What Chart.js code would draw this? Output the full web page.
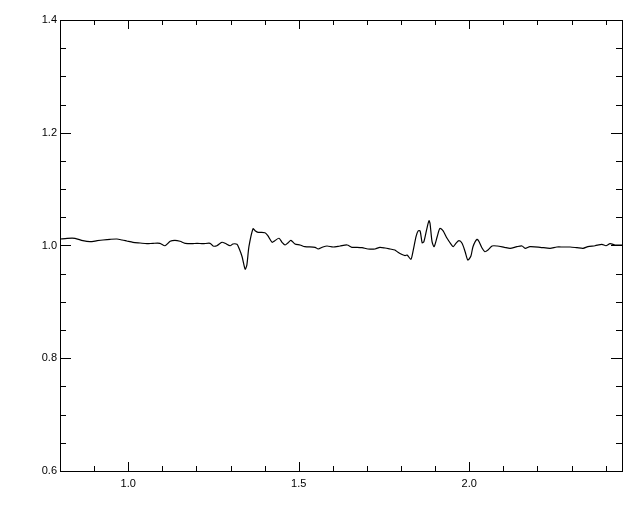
<!DOCTYPE html>
<html>
<head>
<meta charset="utf-8">
<script src="https://cdn.jsdelivr.net/npm/chart.js@4/dist/chart.umd.min.js"></script>
<style>
  body { margin: 0; background: #fff; }
  canvas { display: block; }
</style>
</head>
<body>
<canvas id="ratioChart" width="640" height="512"></canvas>
<script>
// values
const xValues = [0.800, 0.821, 0.844, 0.867, 0.888, 0.909, 0.926, 0.947, 0.967, 0.982,
  0.996, 1.014, 1.035, 1.055, 1.073, 1.093, 1.108, 1.123, 1.137, 1.152,
  1.167, 1.187, 1.202, 1.219, 1.240, 1.249, 1.260, 1.275, 1.284, 1.299,
  1.307, 1.319, 1.325, 1.334, 1.343, 1.348, 1.354, 1.366, 1.372, 1.381,
  1.401, 1.410, 1.422, 1.430, 1.442, 1.451, 1.460, 1.469, 1.477, 1.489,
  1.504, 1.518, 1.548, 1.557, 1.571, 1.583, 1.601, 1.621, 1.642, 1.656,
  1.671, 1.686, 1.703, 1.724, 1.738, 1.753, 1.768, 1.782, 1.791, 1.803,
  1.812, 1.818, 1.829, 1.835, 1.844, 1.850, 1.856, 1.862, 1.867, 1.876,
  1.882, 1.885, 1.891, 1.897, 1.906, 1.914, 1.923, 1.935, 1.947, 1.953,
  1.961, 1.970, 1.979, 1.988, 1.996, 2.005, 2.011, 2.023, 2.029, 2.038,
  2.046, 2.055, 2.067, 2.082, 2.103, 2.120, 2.140, 2.155, 2.164, 2.178,
  2.208, 2.237, 2.257, 2.275, 2.296, 2.316, 2.334, 2.348, 2.369, 2.389,
  2.401, 2.413, 2.428, 2.448]
const yValues = [1.0115, 1.0128, 1.0128, 1.0085, 1.0067, 1.0085, 1.0098, 1.0110, 1.0115, 1.0098,
  1.0080, 1.0057, 1.0044, 1.0032, 1.0039, 1.0039, 0.9996, 1.0075, 1.0092, 1.0075,
  1.0039, 1.0032, 1.0039, 1.0032, 1.0039, 0.9991, 0.9996, 1.0057, 1.0039, 0.9996,
  1.0027, 1.0021, 0.9950, 0.9800, 0.9580, 0.9658, 0.9979, 1.0298, 1.0263, 1.0234,
  1.0227, 1.0169, 1.0057, 1.0085, 1.0128, 1.0057, 1.0009, 1.0050, 1.0092, 1.0027,
  1.0009, 0.9979, 0.9968, 0.9938, 0.9973, 0.9991, 0.9973, 0.9991, 1.0009, 0.9968,
  0.9968, 0.9961, 0.9938, 0.9938, 0.9968, 0.9956, 0.9938, 0.9920, 0.9880, 0.9840,
  0.9820, 0.9831, 0.9755, 0.9890, 1.0156, 1.0257, 1.0257, 1.0050, 1.0067, 1.0305,
  1.0440, 1.0394, 1.0067, 0.9979, 1.0156, 1.0305, 1.0263, 1.0128, 1.0021, 0.9979,
  1.0039, 1.0085, 1.0039, 0.9890, 0.9743, 0.9814, 0.9979, 1.0110, 1.0067, 0.9950,
  0.9890, 0.9920, 0.9991, 0.9991, 0.9968, 0.9950, 0.9979, 0.9991, 0.9950, 0.9979,
  0.9968, 0.9950, 0.9973, 0.9973, 0.9973, 0.9961, 0.9950, 0.9979, 0.9996, 1.0021,
  0.9996, 1.0032, 1.0009, 1.0009]

// axis ticks (all tick marks, and the ones carrying a label)
const xTicks = [0.9, 1.0, 1.1, 1.2, 1.3, 1.4, 1.5, 1.6, 1.7, 1.8, 1.9, 2.0, 2.1, 2.2, 2.3, 2.4]
const xMajor = [1.0, 1.5, 2.0]
const xTickLabels = ['1.0', '1.5', '2.0']
const yTicks = [0.6, 0.65, 0.7, 0.75, 0.8, 0.85, 0.9, 0.95, 1.0, 1.05, 1.1, 1.15, 1.2, 1.25, 1.3, 1.35, 1.4]
const yMajor = [0.6, 0.8, 1.0, 1.2, 1.4]
const yTickLabels = ['0.6', '0.8', '1.0', '1.2', '1.4']

function labelFor(value, majors, labels) {
  for (let i = 0; i < majors.length; i++) {
    if (Math.abs(majors[i] - value) < 1e-6) return labels[i]
  }
  return ''
}

// IDL style frame with inward ticks on all four sides
const frameTicks = {
  id: 'frameTicks',
  afterDraw(chart) {
    const ctx = chart.ctx
    const a = chart.chartArea
    const xs = chart.scales.x
    const ys = chart.scales.y
    ctx.save()
    ctx.strokeStyle = '#000'
    ctx.lineWidth = 1
    ctx.strokeRect(Math.round(a.left) + 0.5, Math.round(a.top) + 0.5,
      Math.round(a.right - a.left), Math.round(a.bottom - a.top))
    ctx.beginPath()
    xTicks.forEach(v => {
      const px = Math.round(xs.getPixelForValue(v)) + 0.5
      const len = labelFor(v, xMajor, xTickLabels) ? 9 : 5
      ctx.moveTo(px, a.bottom); ctx.lineTo(px, a.bottom - len)
      ctx.moveTo(px, a.top); ctx.lineTo(px, a.top + len)
    })
    yTicks.forEach(v => {
      const py = Math.round(ys.getPixelForValue(v)) + 0.5
      const len = labelFor(v, yMajor, yTickLabels) ? 11 : 6
      ctx.moveTo(a.left, py); ctx.lineTo(a.left + len, py)
      ctx.moveTo(a.right, py); ctx.lineTo(a.right - len, py)
    })
    ctx.stroke()
    ctx.restore()
  }
}

Chart.defaults.font.family = "'Liberation Sans', Arial, sans-serif"
Chart.defaults.font.size = 11
Chart.defaults.color = '#000'

const ctx = document.getElementById('ratioChart').getContext('2d')
const ratioChart = new Chart(ctx, {
  type: 'line',
  data: {
    datasets: [{
      data: xValues.map((x, i) => ({ x: x, y: yValues[i] })),
      borderColor: '#000',
      borderWidth: 1.2,
      pointRadius: 0,
      tension: 0.25,
      fill: false
    }]
  },
  options: {
    responsive: false,
    animation: false,
    layout: { padding: { top: 20, right: 18, left: 0, bottom: 0 } },
    plugins: {
      legend: { display: false },
      tooltip: { enabled: false }
    },
    scales: {
      x: {
        type: 'linear',
        min: 0.8,
        max: 2.448,
        afterBuildTicks: scale => { scale.ticks = xTicks.map(v => ({ value: v })) },
        afterFit: scale => { scale.height = 41 },
        grid: { display: false, drawTicks: false },
        border: { display: false },
        ticks: {
          autoSkip: false,
          maxRotation: 0,
          padding: 6,
          callback: v => labelFor(v, xMajor, xTickLabels)
        }
      },
      y: {
        type: 'linear',
        min: 0.6,
        max: 1.4,
        afterBuildTicks: scale => { scale.ticks = yTicks.map(v => ({ value: v })) },
        afterFit: scale => { scale.width = 60 },
        grid: { display: false, drawTicks: false },
        border: { display: false },
        ticks: {
          autoSkip: false,
          padding: 3,
          callback: v => labelFor(v, yMajor, yTickLabels)
        }
      }
    }
  },
  plugins: [frameTicks]
})
</script>
</body>
</html>
